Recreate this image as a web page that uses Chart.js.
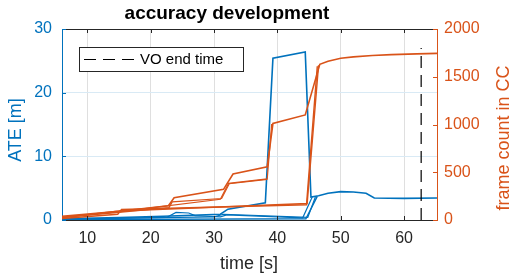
<!DOCTYPE html>
<html>
<head>
    <title>accuracy development</title>
    <script src="https://cdn.jsdelivr.net/npm/chart.js"></script>
    <style>
        body { margin: 0; background: #fff; }
        #wrap { width: 514px; height: 280px; }
    </style>
</head>
<body>
<div id="wrap"><canvas id="accChart"></canvas></div>
<script>
// tick labels
var timeTicks = [10, 20, 30, 40, 50, 60];
var ateTicks = [0, 10, 20, 30];
var frameTicks = [0, 500, 1000, 1500, 2000];
var voEndTime = 62.7;

// ATE [m] per run
var ateTime1 = [6, 15, 22, 31, 32.2, 38.1, 39.3, 44.4, 45.3, 46.5, 48, 50, 52, 54, 55.3, 60, 65.2];
var ateRun1  = [0.2, 0.4, 0.6, 0.9, 1.7, 2.7, 25.4, 26.4, 3.6, 3.8, 4.2, 4.45, 4.4, 4.2, 3.45, 3.4, 3.45];
var ateTime2 = [6, 44.5, 46.3];
var ateRun2  = [0.05, 0.2, 3.7];
var ateTime3 = [6, 22.5, 24, 26, 27, 31, 32, 44, 45.5];
var ateRun3  = [0.1, 0.4, 1.2, 1.1, 0.7, 0.5, 0.8, 0.35, 3.6];
var ateTime4 = [6, 16, 30, 31.5, 44.8, 46];
var ateRun4  = [0.1, 0.3, 0.5, 0.9, 0.4, 3.6];

// frame count in CC per run
var fcTime1 = [6, 15, 22.8, 23.7, 31.5, 33, 38.4, 39.3, 44.4, 46.7, 48, 50, 52, 55, 58, 62, 65.2];
var fcRun1  = [40, 90, 150, 233, 321, 482, 558, 1012, 1100, 1630, 1662, 1693, 1708, 1722, 1732, 1740, 1745];
var fcTime2 = [6, 15.2, 31, 32.3, 38.4, 39.1];
var fcRun2  = [30, 87, 217, 384, 430, 1005];
var fcTime3 = [6, 15, 44.7, 46.5];
var fcRun3  = [25, 95, 172, 1620];
var fcTime4 = [6, 15, 22.9, 23.4, 31.2, 32.4, 38.4];
var fcRun4  = [25, 80, 130, 190, 225, 380, 425];
var fcTime5 = [6, 14.8, 15.4, 44.6, 46.3];
var fcRun5  = [15, 60, 110, 160, 1610];

var blue = '#0072BD';
var orange = '#D95319';
var dark = '#262626';
var fam = '"Liberation Sans", Arial, Helvetica, sans-serif';

function pts(xs, ys) {
    return xs.map(function (x, i) { return { x: x, y: ys[i] }; });
}

function line(data, color, axis, w) {
    return {
        data: data, yAxisID: axis, borderColor: color, borderWidth: w,
        pointRadius: 0, tension: 0, fill: false
    };
}

var datasets = [
    {
        label: 'VO end time', data: [{ x: voEndTime, y: 0 }, { x: voEndTime, y: 27 }],
        yAxisID: 'y', borderColor: '#000', borderWidth: 1.2, borderDash: [12, 7],
        pointRadius: 0, fill: false
    },
    line(pts(fcTime1, fcRun1), orange, 'y1', 1.6),
    line(pts(fcTime2, fcRun2), orange, 'y1', 1.2),
    line(pts(fcTime3, fcRun3), orange, 'y1', 1.4),
    line(pts(fcTime4, fcRun4), orange, 'y1', 1.2),
    line(pts(fcTime5, fcRun5), orange, 'y1', 1.4),
    line(pts(ateTime1, ateRun1), blue, 'y', 1.6),
    line(pts(ateTime2, ateRun2), blue, 'y', 1.4),
    line(pts(ateTime3, ateRun3), blue, 'y', 1.2),
    line(pts(ateTime4, ateRun4), blue, 'y', 1.2)
];

// matlab style frame: inward ticks, top border, titles, legend
var decor = {
    id: 'decor',
    afterDraw: function (chart) {
        var ctx = chart.ctx, a = chart.chartArea, s = chart.scales;
        ctx.save();
        ctx.lineWidth = 1;
        ctx.strokeStyle = dark;
        ctx.beginPath();
        ctx.moveTo(a.left, a.top + 0.5);
        ctx.lineTo(a.right, a.top + 0.5);
        timeTicks.forEach(function (v) {
            var px = Math.round(s.x.getPixelForValue(v)) + 0.5;
            ctx.moveTo(px, a.bottom); ctx.lineTo(px, a.bottom - 4);
            ctx.moveTo(px, a.top); ctx.lineTo(px, a.top + 4);
        });
        ctx.stroke();

        ctx.strokeStyle = blue;
        ctx.beginPath();
        ateTicks.forEach(function (v) {
            var py = Math.round(s.y.getPixelForValue(v)) + 0.5;
            ctx.moveTo(a.left, py); ctx.lineTo(a.left + 4, py);
        });
        ctx.stroke();

        ctx.strokeStyle = orange;
        ctx.beginPath();
        frameTicks.forEach(function (v) {
            var py = Math.round(s.y1.getPixelForValue(v)) + 0.5;
            ctx.moveTo(a.right, py); ctx.lineTo(a.right - 4, py);
        });
        ctx.stroke();

        // legend
        ctx.fillStyle = '#fff';
        ctx.fillRect(79.5, 47.5, 164, 24);
        ctx.strokeStyle = dark;
        ctx.strokeRect(79.5, 47.5, 164, 24);
        ctx.strokeStyle = '#000';
        ctx.lineWidth = 1.2;
        ctx.setLineDash([12, 7]);
        ctx.beginPath();
        ctx.moveTo(84, 59.5); ctx.lineTo(136, 59.5);
        ctx.stroke();
        ctx.setLineDash([]);
        ctx.fillStyle = '#000';
        ctx.font = '15px ' + fam;
        ctx.textAlign = 'left';
        ctx.textBaseline = 'middle';
        ctx.fillText('VO end time', 140, 60);

        // titles
        ctx.textAlign = 'center';
        ctx.fillStyle = '#000';
        ctx.font = 'bold 19px ' + fam;
        ctx.fillText('accuracy development', 227, 14);

        ctx.font = '18px ' + fam;
        ctx.fillStyle = dark;
        ctx.fillText('time [s]', 249, 264);

        ctx.save();
        ctx.translate(16, 130);
        ctx.rotate(-Math.PI / 2);
        ctx.fillStyle = blue;
        ctx.fillText('ATE [m]', 0, 0);
        ctx.restore();

        ctx.save();
        ctx.translate(504, 138);
        ctx.rotate(-Math.PI / 2);
        ctx.fillStyle = orange;
        ctx.fillText('frame count in CC', 0, 0);
        ctx.restore();

        ctx.restore();
    }
};

new Chart(document.getElementById('accChart'), {
    type: 'line',
    data: { datasets: datasets },
    plugins: [decor],
    options: {
        responsive: true,
        maintainAspectRatio: false,
        animation: false,
        layout: { padding: { top: 29, left: 0, right: 0, bottom: 0 } },
        plugins: { legend: { display: false }, tooltip: { enabled: false }, title: { display: false } },
        scales: {
            x: {
                type: 'linear', min: 6, max: 65.2,
                afterBuildTicks: function (sc) { sc.ticks = timeTicks.map(function (v) { return { value: v }; }); },
                afterFit: function (sc) { sc.height = 60; },
                grid: { color: '#dfdfdf', drawTicks: false },
                border: { color: dark },
                ticks: { color: dark, font: { size: 16, family: fam }, padding: 9, maxRotation: 0 }
            },
            y: {
                position: 'left', min: 0, max: 30,
                afterBuildTicks: function (sc) { sc.ticks = ateTicks.map(function (v) { return { value: v }; }); },
                afterFit: function (sc) { sc.width = 62; },
                grid: { color: '#d9eaf5', drawTicks: false },
                border: { color: blue },
                ticks: { color: blue, font: { size: 16, family: fam }, padding: 10 }
            },
            y1: {
                position: 'right', min: 0, max: 2000,
                afterBuildTicks: function (sc) { sc.ticks = frameTicks.map(function (v) { return { value: v }; }); },
                afterFit: function (sc) { sc.width = 77; },
                grid: { drawOnChartArea: false, drawTicks: false },
                border: { color: orange },
                ticks: {
                    color: orange, font: { size: 16, family: fam }, padding: 7,
                    callback: function (v) { return String(v); }
                }
            }
        }
    }
});
</script>
</body>
</html>
